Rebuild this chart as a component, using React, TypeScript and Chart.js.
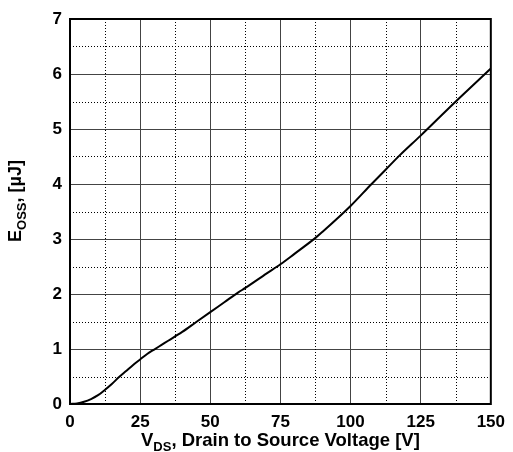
import React, { useEffect, useRef } from 'react';
import { Chart, registerables } from 'chart.js';

Chart.register(...registerables);

// Drain-to-source voltage [V]
const vds = [0, 2.5, 5, 7.5, 10, 12.5, 15, 17.5, 20, 22.5, 25, 27.5, 30, 32.5, 35, 40, 45, 50, 55, 60, 62.5, 70, 75, 80, 87.5, 90, 100, 107.5, 112.5, 117.5, 125, 137.5, 150];
// Output capacitance stored energy [µJ]
const eoss = [0, 0.01, 0.04, 0.09, 0.16, 0.26, 0.37, 0.49, 0.6, 0.71, 0.81, 0.91, 0.99, 1.07, 1.15, 1.31, 1.49, 1.67, 1.85, 2.03, 2.11, 2.37, 2.54, 2.73, 3.02, 3.13, 3.6, 4.0, 4.26, 4.52, 4.88, 5.5, 6.1];

const xMinorTicks = [12.5, 37.5, 62.5, 87.5, 112.5, 137.5];
const yMinorTicks = [0.5, 1.5, 2.5, 3.5, 4.5, 5.5, 6.5];

const FONT = '"Liberation Sans", Arial, Helvetica, sans-serif';

type Part = { t: string; sub?: boolean };

function drawParts(ctx: CanvasRenderingContext2D, parts: Part[], x: number, y: number, size: number, subSize: number, subDrop: number) {
  const mainFont = `bold ${size}px ${FONT}`;
  const subFont = `bold ${subSize}px ${FONT}`;
  let total = 0;
  for (const p of parts) {
    ctx.font = p.sub ? subFont : mainFont;
    total += ctx.measureText(p.t).width;
  }
  let cx = x - total / 2;
  ctx.textAlign = 'left';
  ctx.textBaseline = 'alphabetic';
  for (const p of parts) {
    ctx.font = p.sub ? subFont : mainFont;
    ctx.fillText(p.t, cx, p.sub ? y + subDrop : y);
    cx += ctx.measureText(p.t).width;
  }
}

const decorPlugin = {
  id: 'decor',
  beforeDatasetsDraw(chart: any) {
    const { ctx, chartArea } = chart;
    const xs = chart.scales.x;
    const ys = chart.scales.y;
    ctx.save();
    ctx.strokeStyle = '#000';
    ctx.lineWidth = 1;
    ctx.setLineDash([1, 2]);
    for (const v of xMinorTicks) {
      const px = Math.round(xs.getPixelForValue(v)) + 0.5;
      ctx.beginPath();
      ctx.moveTo(px, chartArea.top);
      ctx.lineTo(px, chartArea.bottom);
      ctx.stroke();
    }
    for (const v of yMinorTicks) {
      const py = Math.round(ys.getPixelForValue(v)) + 0.5;
      ctx.beginPath();
      ctx.moveTo(chartArea.left, py);
      ctx.lineTo(chartArea.right, py);
      ctx.stroke();
    }
    ctx.restore();
  },
  afterDraw(chart: any) {
    const { ctx, chartArea } = chart;
    ctx.save();
    ctx.strokeStyle = '#000';
    ctx.lineWidth = 2;
    ctx.setLineDash([]);
    ctx.strokeRect(chartArea.left, chartArea.top, chartArea.right - chartArea.left, chartArea.bottom - chartArea.top);
    ctx.fillStyle = '#000';
    // X axis title
    const cxMid = (chartArea.left + chartArea.right) / 2;
    drawParts(ctx, [
      { t: 'V' },
      { t: 'DS', sub: true },
      { t: ', Drain to Source Voltage [V]' },
    ], cxMid, 446, 18.5, 13, 5);
    // Y axis title
    ctx.save();
    ctx.translate(21, 201);
    ctx.rotate(-Math.PI / 2);
    drawParts(ctx, [
      { t: 'E' },
      { t: 'OSS', sub: true },
      { t: ', [µJ]' },
    ], 0, 0, 18, 13, 5);
    ctx.restore();
    ctx.restore();
  },
};

export default function App() {
  const ref = useRef<HTMLCanvasElement | null>(null);
  useEffect(() => {
    if (!ref.current) return;
    const chart = new Chart(ref.current, {
      type: 'line',
      data: {
        datasets: [
          {
            data: vds.map((v, i) => ({ x: v, y: eoss[i] })),
            borderColor: '#000',
            borderWidth: 2,
            pointRadius: 0,
            fill: false,
            cubicInterpolationMode: 'monotone',
          },
        ],
      },
      options: {
        animation: false,
        responsive: false,
        maintainAspectRatio: false,
        layout: { padding: { top: 19, right: 16, left: 0, bottom: 0 } },
        plugins: { legend: { display: false }, tooltip: { enabled: false }, title: { display: false } },
        scales: {
          x: {
            type: 'linear',
            min: 0,
            max: 150,
            afterFit: (s: any) => { s.height = 48; },
            ticks: { stepSize: 25, color: '#000', font: { family: FONT, size: 17, weight: 'bold' }, padding: 8, maxRotation: 0 },
            grid: { color: '#444', lineWidth: 1, drawTicks: false },
            border: { display: false },
          },
          y: {
            type: 'linear',
            min: 0,
            max: 7,
            afterFit: (s: any) => { s.width = 70; },
            ticks: { stepSize: 1, color: '#000', font: { family: FONT, size: 17, weight: 'bold' }, padding: 8 },
            grid: { color: '#444', lineWidth: 1, drawTicks: false },
            border: { display: false },
          },
        },
      },
      plugins: [decorPlugin],
    } as any);
    return () => chart.destroy();
  }, []);
  return (
    <div style={{ position: 'fixed', left: 0, top: 0, width: 513, height: 452, background: '#fff' }}>
      <canvas ref={ref} width={513} height={452} style={{ width: 513, height: 452, display: 'block' }} />
    </div>
  );
}
